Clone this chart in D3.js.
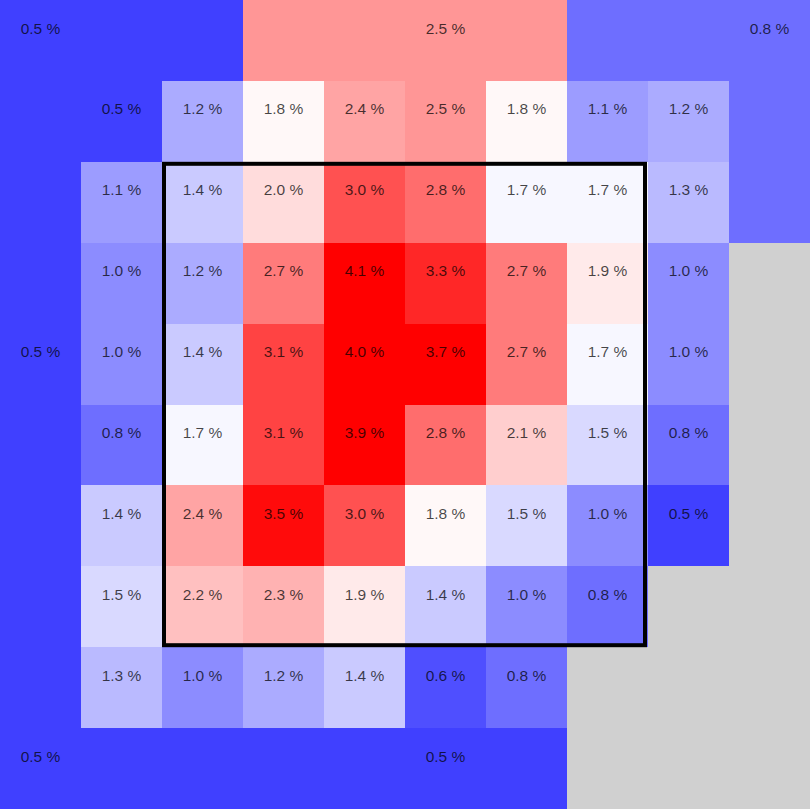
<!DOCTYPE html>
<html>
<head>
<meta charset="utf-8">
<script src="https://cdn.jsdelivr.net/npm/d3@7"></script>
<style>
  html, body { margin: 0; padding: 0; background: #ffffff; }
  svg { display: block; }
</style>
</head>
<body>
<svg id="chart" width="810" height="809"></svg>
<script>
// ---- DATA ----
// inner 8x8 grid (rows top->bottom, cols left->right); null = no data (gray)
const innerValues = [
  [0.5, 1.2, 1.8, 2.4, 2.5, 1.8, 1.1, 1.2],
  [1.1, 1.4, 2.0, 3.0, 2.8, 1.7, 1.7, 1.3],
  [1.0, 1.2, 2.7, 4.1, 3.3, 2.7, 1.9, 1.0],
  [1.0, 1.4, 3.1, 4.0, 3.7, 2.7, 1.7, 1.0],
  [0.8, 1.7, 3.1, 3.9, 2.8, 2.1, 1.5, 0.8],
  [1.4, 2.4, 3.5, 3.0, 1.8, 1.5, 1.0, 0.5],
  [1.5, 2.2, 2.3, 1.9, 1.4, 1.0, 0.8, null],
  [1.3, 1.0, 1.2, 1.4, 0.6, 0.8, null, null]
];
// outer zones: letter = zone, '.' = inner cell, '-' = no data
const zoneLayout = [
  "aaabbbbccc",
  "d........c",
  "d........c",
  "d........-",
  "d........-",
  "d........-",
  "d........-",
  "d........-",
  "d........-",
  "eeeffff---"
];
const zoneIds    = ["a", "b", "c", "d", "e", "f"];
const zoneValues = [0.5, 2.5, 0.8, 0.5, 0.5, 0.5];
const zoneLabelCol = [0, 5, 9, 0, 0, 5];
const zoneLabelRow = [0, 0, 0, 4, 9, 9];

// ---- BUILD ----
const W = 810, H = 809;
const idx = d3.range(10);
const x = d3.scaleBand().domain(idx).range([0, W]);
const y = d3.scaleBand().domain(idx).range([0, H]);
const color = d3.scaleLinear()
  .domain([0.08, 1.75, 3.58])
  .range(["#0000ff", "#ffffff", "#ff0000"])
  .clamp(true);

const cells = [];
idx.forEach(r => {
  idx.forEach(c => {
    const ch = zoneLayout[r][c];
    let v = null, showLabel = false;
    if (ch === ".") {
      v = innerValues[r - 1][c - 1];
      showLabel = v !== null;
    } else if (ch !== "-") {
      const zi = zoneIds.indexOf(ch);
      v = zoneValues[zi];
      showLabel = zoneLabelCol[zi] === c && zoneLabelRow[zi] === r;
    }
    cells.push({ r, c, v, showLabel });
  });
});

const svg = d3.select("#chart");

svg.append("g").selectAll("rect")
  .data(cells)
  .join("rect")
  .attr("x", d => x(d.c))
  .attr("y", d => y(d.r))
  .attr("width", x.bandwidth() + 0.5)
  .attr("height", y.bandwidth() + 0.5)
  .attr("fill", d => d.v === null ? "#d0d0d0" : color(d.v))
  .attr("shape-rendering", "crispEdges");

svg.append("g").selectAll("text")
  .data(cells.filter(d => d.showLabel))
  .join("text")
  .attr("x", d => x(d.c) + x.bandwidth() / 2)
  .attr("y", d => y(d.r) + 33.5)
  .attr("text-anchor", "middle")
  .attr("font-family", "'Liberation Sans', Arial, sans-serif")
  .attr("font-size", "15.5px")
  .attr("fill", "#000")
  .attr("fill-opacity", 0.72)
  .text(d => d.v.toFixed(1) + " %");

// strike zone box (inner columns/rows 2..7)
svg.append("rect")
  .attr("x", x(2) + 2)
  .attr("y", y(2) + 2)
  .attr("width", x(8) - x(2) - 5)
  .attr("height", y(8) - y(2) - 4)
  .attr("fill", "none")
  .attr("stroke", "#000")
  .attr("stroke-width", 4);
</script>
</body>
</html>
